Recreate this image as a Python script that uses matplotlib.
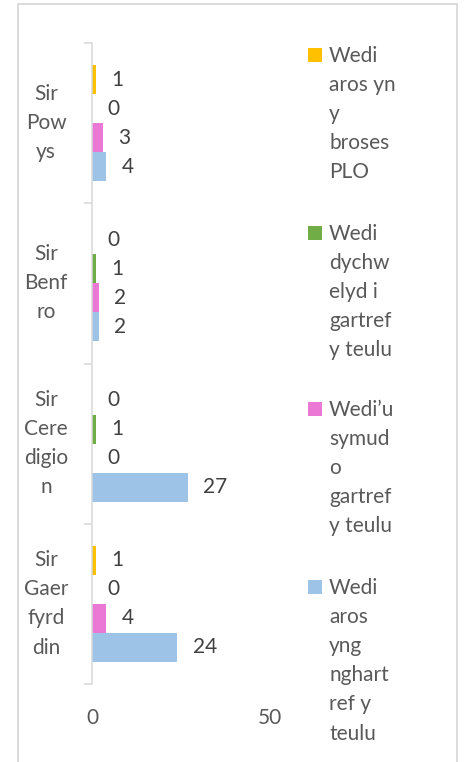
import matplotlib
matplotlib.use("Agg")
import matplotlib.pyplot as plt
from matplotlib.patches import Rectangle
import numpy as np

plt.rcParams['font.family'] = ['Lato', 'DejaVu Sans']

categories = ["Sir\nPow\nys", "Sir\nBenf\nro", "Sir\nCere\ndigio\nn", "Sir\nGaer\nfyrd\ndin"]
series_names = [
    "Wedi\naros yn\ny\nbroses\nPLO",
    "Wedi\ndychw\nelyd i\ngartref\ny teulu",
    "Wedi\u2019u\nsymud\no\ngartref\ny teulu",
    "Wedi\naros\nyng\nnghart\nref y\nteulu",
]
aros_plo = [1, 0, 0, 1]
dychwelyd = [0, 1, 1, 0]
symud = [3, 2, 0, 4]
aros_cartref = [4, 2, 27, 24]
series_values = [aros_plo, dychwelyd, symud, aros_cartref]
colors = ["#FFC000", "#70AD47", "#EB78D5", "#9DC3E6"]
xticks = [0, 50]

W, H = 465, 762
fig = plt.figure(figsize=(W / 100, H / 100), dpi=100)
fig.patch.set_facecolor("white")

# outer chart border
fig.add_artist(Rectangle((18 / W, -0.02), (457 - 18) / W, (H - 4) / H + 0.02,
                         transform=fig.transFigure, fill=False,
                         edgecolor="#D9D9D9", linewidth=1.3))

ax_left, ax_right, ax_top, ax_bot = 92, 270, 43, 684
ax = fig.add_axes([ax_left / W, (H - ax_bot) / H, (ax_right - ax_left) / W, (ax_bot - ax_top) / H])

h = 0.181
y = np.arange(len(categories))
offsets = [-1.5 * h, -0.5 * h, 0.5 * h, 1.5 * h]
for vals, col, off in zip(series_values, colors, offsets):
    bars = ax.barh(y + off, vals, height=h, color=col, edgecolor="none")
    ax.bar_label(bars, labels=[str(v) for v in vals], padding=11,
                 fontsize=15, color="#404040")

ax.set_xlim(0, 50)
ax.set_ylim(len(categories) - 0.5, -0.5)
ax.set_xticks(xticks)
ax.set_xticklabels([str(t) for t in xticks])
ax.set_yticks(np.arange(len(categories) + 1) - 0.5)
ax.set_yticklabels([])
ax.set_yticks(y, minor=True)
ax.set_yticklabels(categories, minor=True, ha="center", va="center", linespacing=1.57)

for s in ["top", "right", "bottom"]:
    ax.spines[s].set_visible(False)
ax.spines["left"].set_color("#D9D9D9")
ax.spines["left"].set_linewidth(1.1)
ax.tick_params(axis="y", which="major", length=5.8, width=1.1, color="#D9D9D9")
ax.tick_params(axis="y", which="minor", length=0, pad=33, labelsize=15, labelcolor="#595959")
ax.tick_params(axis="x", length=0, pad=17.5, labelsize=15, labelcolor="#595959")
ax.set_facecolor("none")

# legend (manual layout, Excel style with wrapped labels)
leg_y = [55, 233, 409, 587]
for name, col, yy in zip(series_names, colors, leg_y):
    fig.add_artist(Rectangle((308 / W, (H - yy - 7) / H), 14 / W, 14 / H,
                             transform=fig.transFigure, facecolor=col, edgecolor="none"))
    fig.text(329 / W, (H - yy + 9) / H, name, ha="left", va="top", fontsize=15,
             color="#595959", linespacing=1.57)

fig.savefig("out.png", dpi=100)
